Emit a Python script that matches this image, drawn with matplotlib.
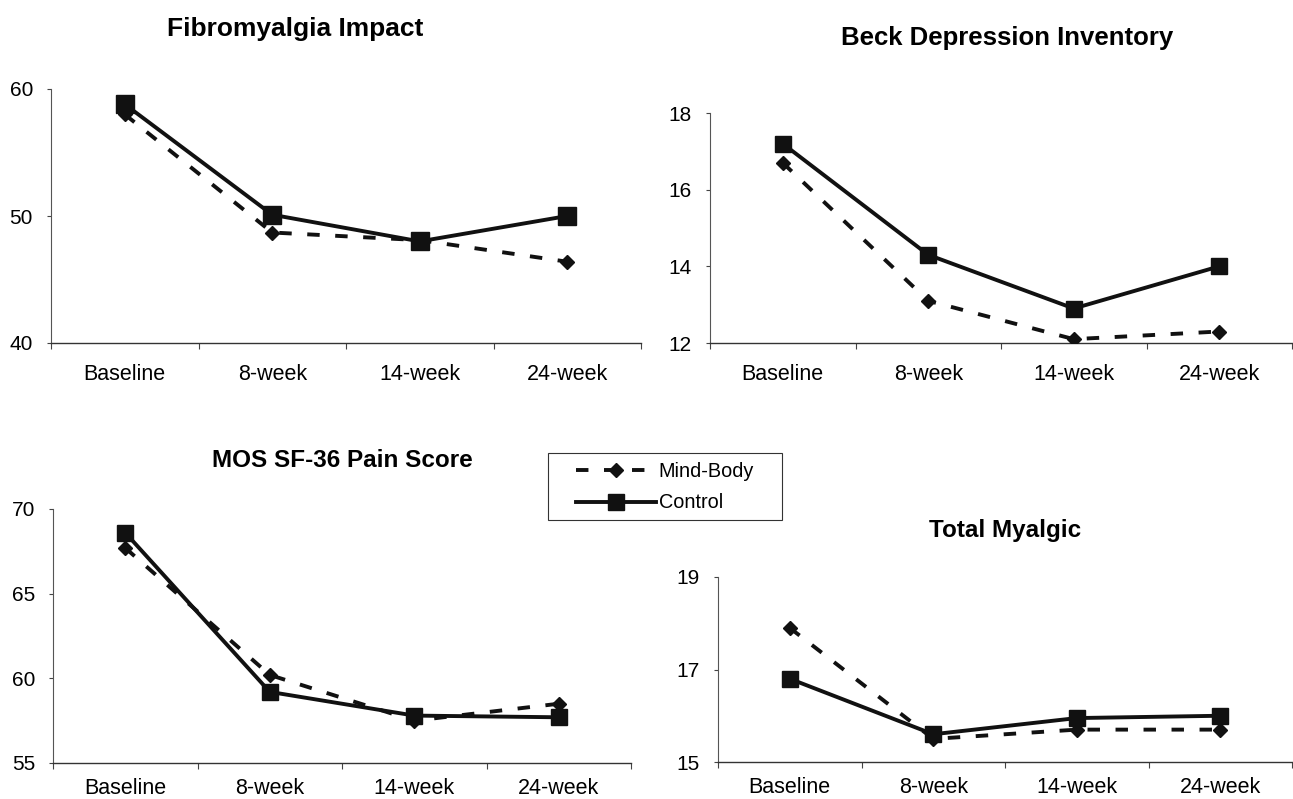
import numpy as np
import matplotlib
matplotlib.use("Agg")
import matplotlib.pyplot as plt
from matplotlib.patches import Rectangle

plt.rcParams['font.family'] = ['Liberation Sans', 'DejaVu Sans']

weeks = ['Baseline', '8-week', '14-week', '24-week']

# Fibromyalgia Impact
fiq_mind = [58.0, 48.7, 48.1, 46.4]
fiq_ctrl = [58.8, 50.1, 48.0, 50.0]
# Beck Depression Inventory
bdi_mind = [16.7, 13.1, 12.1, 12.3]
bdi_ctrl = [17.2, 14.3, 12.9, 14.0]
# MOS SF-36 Pain Score
pain_mind = [67.7, 60.2, 57.5, 58.5]
pain_ctrl = [68.6, 59.2, 57.8, 57.7]
# Total Myalgic
myal_mind = [17.9, 15.5, 15.7, 15.7]
myal_ctrl = [16.8, 15.6, 15.95, 16.0]

W, H = 1293, 799
fig = plt.figure(figsize=(W/100, H/100), dpi=100)

def box(l, r, t, b):
    return [l/W, (H-b)/H, (r-l)/W, (b-t)/H]

# rect, title, mind, ctrl, yticks, square size, title (x, baseline y), title size, label pad
panels = [
    (box(51, 641, 89, 343), 'Fibromyalgia Impact', fiq_mind, fiq_ctrl, [40, 50, 60], 13, (295, 36), 19, 15),
    (box(710, 1292, 113, 343), 'Beck Depression Inventory', bdi_mind, bdi_ctrl, [12, 14, 16, 18], 11.5, (1007, 45), 18.5, 15),
    (box(53, 631, 509, 763), 'MOS SF-36 Pain Score', pain_mind, pain_ctrl, [55, 60, 65, 70], 11.5, (342, 467), 17.5, 11),
    (box(718, 1292, 577, 762), 'Total Myalgic', myal_mind, myal_ctrl, [15, 17, 19], 11.5, (1005, 537), 17.5, 11),
]

x = np.arange(len(weeks)) + 0.5
for rect, title, mind, ctrl, yt, ms, tpos, tsize, lpad in panels:
    ax = fig.add_axes(rect)
    lm, = ax.plot(x, mind, color='#111111', lw=2.8, ls=(0, (3.2, 4)), marker='D',
                  ms=7.5, label='Mind-Body', zorder=3)
    lc, = ax.plot(x, ctrl, color='#111111', lw=2.8, marker='s', ms=ms,
                  label='Control', zorder=4)
    ax.set_xlim(0, 4)
    ax.set_ylim(yt[0], yt[-1])
    ax.set_yticks(yt)
    ax.set_xticks(range(5))
    ax.set_xticklabels([])
    ax.set_xticks(x, minor=True)
    ax.set_xticklabels(weeks, minor=True, fontsize=15.5)
    ax.tick_params(axis='x', which='minor', length=0, pad=lpad)
    ax.tick_params(axis='x', which='major', length=4, direction='out', color='#444444')
    ax.tick_params(axis='y', length=3, labelsize=15, pad=10, color='#444444')
    for s in ['top', 'right']:
        ax.spines[s].set_visible(False)
    ax.spines['left'].set_color('#555555')
    ax.spines['bottom'].set_color('#333333')
    ax.spines['left'].set_linewidth(0.8)
    ax.spines['bottom'].set_linewidth(1.0)
    ax.patch.set_alpha(0)
    fig.text(tpos[0]/W, 1 - tpos[1]/H, title, ha='center', va='baseline',
             fontsize=tsize, fontweight='bold')

leg = fig.legend(handles=[lm, lc], loc='center', bbox_to_anchor=(665/W, 1 - 487/H),
                 frameon=False, fontsize=14.3, handlelength=4.0,
                 handletextpad=0.15, borderpad=0.3, labelspacing=0.65, markerscale=1.0)
fig.add_artist(Rectangle((548/W, 1 - 520/H), 234/W, 67/H, transform=fig.transFigure,
                         fill=False, edgecolor='#333333', lw=0.8))

fig.savefig('out.png', dpi=100)
